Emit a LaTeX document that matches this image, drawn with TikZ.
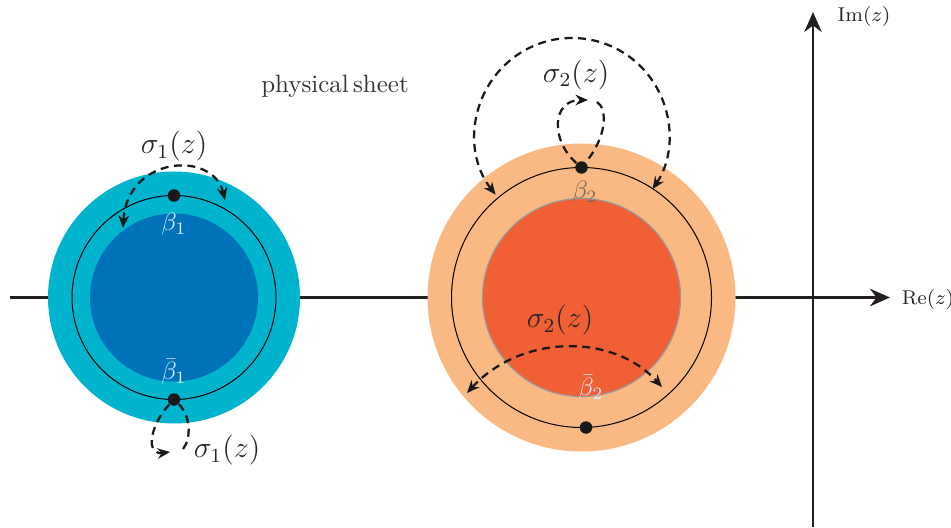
\documentclass[tikz,border=0pt]{standalone}
\usetikzlibrary{arrows.meta}
\definecolor{cyanout}{HTML}{00B4CE}
\definecolor{bluein}{HTML}{0072BA}
\definecolor{orangeout}{HTML}{FAB882}
\definecolor{orangein}{HTML}{F15F35}
\definecolor{axisblack}{HTML}{231F20}
\definecolor{palelabel}{HTML}{DCEBF7}
\definecolor{betatwo}{HTML}{7A6A5E}
\begin{document}
\begin{tikzpicture}[x=0.4pt,y=0.4pt,
  axis/.style={draw=axisblack,line width=1pt,-{Stealth[length=8pt,width=7pt]}},
  ring/.style={draw=black,line width=0.4pt},
  dotnode/.style={circle,fill=black!90,inner sep=0pt,minimum size=5pt},
  loopline/.style={draw=black!90,line width=0.9pt,dash pattern=on 3.2pt off 2.2pt},
  looparrow/.style={loopline,-{Stealth[length=5pt,width=4.2pt]}},
  looparrows/.style={loopline,{Stealth[length=5pt,width=4.2pt]}-{Stealth[length=5pt,width=4.2pt]}},
  sig/.style={text=black!85,font=\large},
  lab/.style={font=\normalsize}]
\useasboundingbox (0,0) rectangle (951,527);
% axes
\coordinate (xs) at (10,229.5);
\coordinate (xe) at (890,229.5);
\coordinate (ys) at (813,0);
\coordinate (ye) at (813,515);
\draw[axis] (xs) -- (xe);
\draw[axis] (ys) -- (ye);
\node[font=\footnotesize,text=black!85] (im) at (864,510) {$\mathrm{Im}(z)$};
\node[font=\footnotesize,text=black!85] (re) at (928,228) {$\mathrm{Re}(z)$};
% left disc
\coordinate (Lc) at (174,229.5);
\fill[cyanout] (Lc) circle[radius=126];
\fill[bluein] (Lc) circle[radius=84];
\draw[ring] (Lc) circle[radius=102];
\node[dotnode] (b1) at (174,331.5) {};
\node[dotnode] (b1bar) at (174,127.5) {};
\node[lab,text=palelabel] (lb1) at (174,303) {$\beta_1$};
\node[lab,text=palelabel] (lb1bar) at (174,155) {$\bar\beta_1$};
% right disc
\coordinate (Rc) at (581.5,229.5);
\fill[orangeout] (Rc) circle[radius=154];
\fill[orangein,draw=gray!80,line width=0.5pt] (Rc) circle[radius=99];
\draw[ring] (Rc) circle[radius=130];
\node[dotnode] (b2) at (581.5,359.5) {};
\node[dotnode] (b2bar) at (586,99.5) {};
\node[lab,text=betatwo] (lb2) at (585,335) {$\beta_2$};
\node[lab,text=palelabel] (lb2bar) at (591,139) {$\bar\beta_2$};
% text
\node[text=black!80] (phys) at (335,441) {physical\,sheet};
\node[sig] (s1top) at (174,381) {$\sigma_1(z)$};
\node[sig] (s1bot) at (227,77) {$\sigma_1(z)$};
\node[sig] (s2top) at (576,452) {$\sigma_2(z)$};
\node[sig] (s2bot) at (560,207) {$\sigma_2(z)$};
% left top arc
\coordinate (la1) at (123,299);
\coordinate (la2) at (225,327);
\draw[looparrows] (la1) .. controls (127,371) and (213,377) .. (la2);
% left bottom loop
\coordinate (lb1e) at (170,75);
\coordinate (lb2s) at (183,78);
\draw[looparrow] (b1bar) .. controls (150,102) and (145,72) .. (lb1e);
\draw[loopline] (lb2s) .. controls (192,89) and (190,112) .. (b1bar);
% right top big arc
\coordinate (ra1) at (495.6,332.3);
\draw[looparrows] (ra1) arc[start angle=218,end angle=-34,radius=97];
% right top small loop
\coordinate (rs1e) at (588,427);
\coordinate (rs2s) at (597,425);
\draw[looparrow] (b2) .. controls (550,387) and (552,427) .. (rs1e);
\draw[loopline] (rs2s) .. controls (607,419) and (608,392) .. (b2);
% right bottom arc
\coordinate (rb1) at (467,134);
\coordinate (rb2) at (662,140);
\draw[looparrows] (rb1) .. controls (520,192) and (612,195) .. (rb2);
\end{tikzpicture}
\end{document}
